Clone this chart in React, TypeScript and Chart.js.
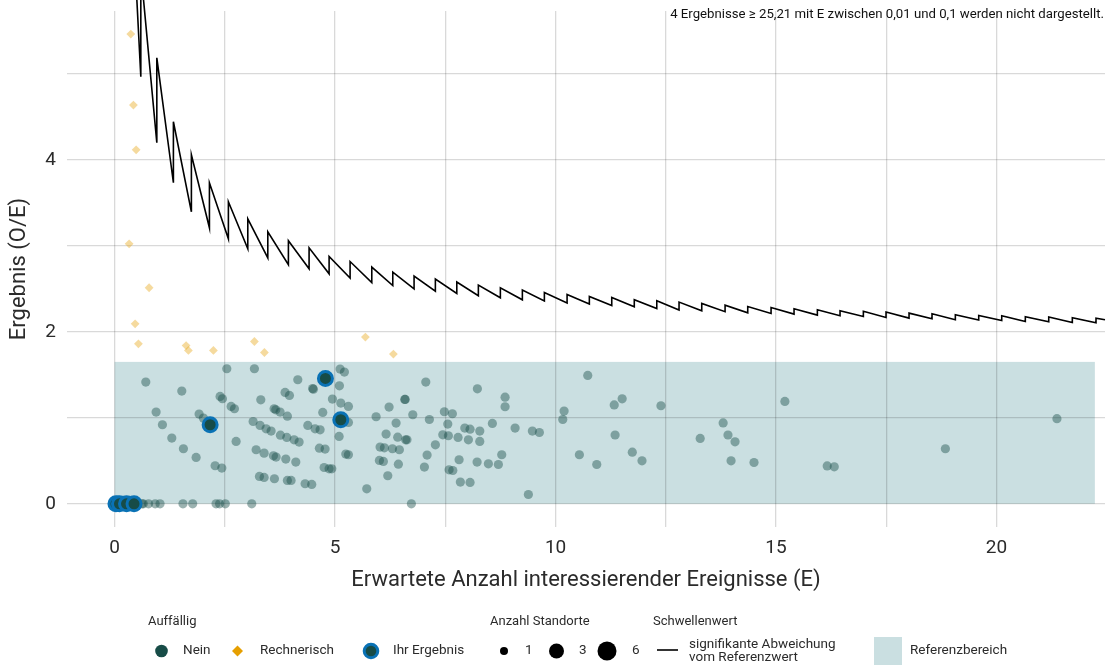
import React, { useEffect, useRef } from "react";
import { Chart, registerables } from "chart.js";

Chart.register(...registerables);

// ---------- tick labels ----------
const xTickValues = [0, 2.5, 5, 7.5, 10, 12.5, 15, 17.5, 20];
const xTickLabeled = [0, 5, 10, 15, 20];
const yTickValues = [0, 1, 2, 3, 4, 5];
const yTickLabeled = [0, 2, 4];

// ---------- reference range ----------
const refRangeE = [0, 22.23];
const refRangeOE = [0, 1.65];

// ---------- "Nein" (not conspicuous) ----------
const neinE = [
  2.544, 3.17, 0.707, 1.523, 4.154, 3.866, 3.964, 2.392, 2.445, 3.315, 4.508, 4.49, 5.113, 5.211, 5.098, 4.939,
  5.129, 5.302, 0.941, 1.916, 2.014, 2.642, 2.717, 3.617, 3.655, 3.753, 3.918, 4.72, 5.93, 6.224, 6.383, 1.084,
  3.141, 3.299, 3.435, 3.549, 4.381, 4.546, 4.66, 5.302, 1.297, 2.755, 3.76, 3.905, 4.07, 4.184, 5.091, 6.156,
  6.42, 1.56, 1.848, 3.209, 3.39, 3.601, 3.662, 3.882, 4.109, 4.644, 4.773, 5.242, 5.302, 6.02, 6.118, 6.3,
  6.458, 2.279, 2.431, 4.751, 4.864, 4.925, 6.005, 6.095, 6.435, 3.284, 3.39, 3.624, 3.918, 4.002, 6.195, 4.32,
  4.47, 5.718, 6.6, 6.63,
  7.057, 6.58, 6.59, 6.762, 7.138, 7.478, 7.66, 7.555, 8.227, 8.855, 8.855, 7.941, 8.061, 8.281, 8.281, 8.567,
  9.082, 9.474, 9.633, 7.442, 7.569, 7.789, 8.023, 7.274, 7.086, 7.025, 7.585, 7.669, 7.812, 8.22, 8.476, 8.703,
  8.779, 7.841, 8.061, 9.383, 10.163, 10.193, 10.54, 10.73, 10.934,
  11.33, 11.51, 11.35, 11.74, 11.96, 12.39, 13.28, 13.8, 13.91, 14.07, 13.98, 14.5, 15.2, 16.16, 16.32, 18.84,
  21.37,
  0.15, 0.35, 0.62, 0.65, 0.77, 0.92, 1.03, 1.55, 1.77, 2.3, 2.38, 2.51, 3.11, 6.73,
];
const neinOE = [
  1.57, 1.57, 1.415, 1.31, 1.442, 1.295, 1.26, 1.248, 1.221, 1.209, 1.333, 1.34, 1.566, 1.531, 1.372, 1.217,
  1.171, 1.132, 1.066, 1.043, 0.996, 1.132, 1.105, 1.105, 1.093, 1.066, 1.019, 1.062, 1.012, 1.124, 0.938, 0.919,
  0.957, 0.911, 0.872, 0.845, 0.911, 0.872, 0.86, 0.946, 0.764, 0.725, 0.798, 0.771, 0.744, 0.717, 0.783, 0.81,
  0.775, 0.64, 0.539, 0.628, 0.589, 0.558, 0.543, 0.52, 0.485, 0.647, 0.636, 0.578, 0.57, 0.659, 0.651, 0.64,
  0.628, 0.442, 0.415, 0.422, 0.407, 0.407, 0.504, 0.492, 0.461, 0.318, 0.306, 0.291, 0.271, 0.271, 0.326, 0.233,
  0.225, 0.174, 0.744, 0.744,
  1.415, 1.213, 1.213, 1.035, 0.98, 1.07, 1.047, 0.927, 1.337, 1.24, 1.128, 0.88, 0.868, 0.845, 0.725, 0.934,
  0.88, 0.845, 0.829, 0.802, 0.791, 0.771, 0.744, 0.686, 0.566, 0.427, 0.395, 0.387, 0.512, 0.485, 0.465, 0.457,
  0.57, 0.252, 0.248, 0.108, 0.98, 1.078, 0.57, 1.492, 0.457,
  1.15, 1.22, 0.8, 0.6, 0.5, 1.14, 0.76, 0.94, 0.8, 0.72, 0.5, 0.48, 1.19, 0.44, 0.43, 0.64,
  0.99,
  0, 0, 0, 0, 0, 0, 0, 0, 0, 0, 0, 0, 0, 0,
];

// ---------- "Rechnerisch" (computationally conspicuous) ----------
const rechE = [0.367, 0.426, 0.488, 0.329, 0.782, 0.465, 0.54, 1.621, 1.673, 2.24, 3.17, 3.397, 5.687, 6.322];
const rechOE = [5.462, 4.636, 4.116, 3.023, 2.512, 2.093, 1.86, 1.84, 1.783, 1.783, 1.887, 1.759, 1.938, 1.741];

// ---------- "Ihr Ergebnis" ----------
const ihrE = [0.03, 0.11, 0.27, 0.44, 2.166, 4.781, 5.129];
const ihrOE = [0, 0, 0, 0, 0.919, 1.457, 0.977];

// ---------- threshold (significant deviation) ----------
const thresholdStart = [0.45, 6.4];
const thresholdEnd = [22.46, 2.14];
const thresholdE = [
  0.594, 0.957, 1.333, 1.741, 2.15, 2.58, 3.02, 3.474, 3.941, 4.41, 4.864, 5.34, 5.832, 6.308, 6.791, 7.274,
  7.76, 8.249, 8.748, 9.247, 9.746, 10.261, 10.766, 11.274, 11.785, 12.295, 12.8, 13.315, 13.844, 14.358, 14.887,
  15.408, 15.937, 16.451, 16.98, 17.494, 18.016, 18.537, 19.066, 19.596, 20.118, 20.653, 21.184, 21.719, 22.256,
];
const thresholdTop = [
  6.2, 5.186, 4.442, 4.058, 3.733, 3.512, 3.314, 3.163, 3.058, 2.977, 2.876, 2.817, 2.752, 2.694, 2.648, 2.613,
  2.578, 2.543, 2.512, 2.485, 2.457, 2.434, 2.41, 2.399, 2.372, 2.36, 2.345, 2.329, 2.31, 2.294, 2.283,
  2.267, 2.256, 2.244, 2.238, 2.229, 2.217, 2.209, 2.198, 2.19, 2.186, 2.174, 2.171, 2.163, 2.159,
];
const thresholdBottom = [
  4.965, 4.198, 3.733, 3.395, 3.209, 3.081, 2.965, 2.86, 2.779, 2.733, 2.674, 2.624, 2.573, 2.538, 2.5, 2.473,
  2.445, 2.419, 2.395, 2.372, 2.357, 2.334, 2.322, 2.306, 2.291, 2.271, 2.252, 2.244, 2.233, 2.221, 2.213,
  2.206, 2.194, 2.186, 2.178, 2.166, 2.159, 2.151, 2.14, 2.136, 2.131, 2.12, 2.116, 2.108, 2.105,
];

// ---------- styles ----------
const FONT = "Roboto, 'Noto Sans', sans-serif";
const TEXT = "#2b2b2b";
const BAND = "#cadfe1";
const GREEN = "#174c47";
const GREEN_A = "rgba(23,76,71,0.43)";
const ORANGE = "#e69f00";
const ORANGE_A = "rgba(230,159,0,0.38)";
const BLUE = "#0a72b5";

const toPts = (xs: number[], ys: number[]) => xs.map((x, i) => ({ x, y: ys[i] }));

function buildThreshold() {
  const pts = [{ x: thresholdStart[0], y: thresholdStart[1] }];
  thresholdE.forEach((e, i) => {
    pts.push({ x: e, y: thresholdBottom[i] });
    pts.push({ x: e, y: thresholdTop[i] });
  });
  pts.push({ x: thresholdEnd[0], y: thresholdEnd[1] });
  return pts;
}

const bandPlugin = {
  id: "refBand",
  beforeDraw(chart: any) {
    const { ctx } = chart;
    const x = chart.scales.x;
    const y = chart.scales.y;
    const x0 = x.getPixelForValue(refRangeE[0]);
    const x1 = x.getPixelForValue(refRangeE[1]);
    const y0 = y.getPixelForValue(refRangeOE[0]);
    const y1 = y.getPixelForValue(refRangeOE[1]);
    ctx.save();
    ctx.fillStyle = BAND;
    ctx.fillRect(x0, y1, x1 - x0, y0 - y1);
    ctx.restore();
  },
};

function circle(ctx: any, cx: number, cy: number, r: number, fill: string, stroke?: string, lw?: number) {
  ctx.beginPath();
  ctx.arc(cx, cy, r, 0, Math.PI * 2);
  ctx.fillStyle = fill;
  ctx.fill();
  if (stroke) {
    ctx.lineWidth = lw || 1;
    ctx.strokeStyle = stroke;
    ctx.stroke();
  }
}

const textPlugin = {
  id: "texts",
  afterDraw(chart: any) {
    const { ctx, chartArea } = chart;
    ctx.save();
    ctx.fillStyle = TEXT;
    // y title
    ctx.save();
    ctx.translate(19, (chartArea.top + chartArea.bottom) / 2);
    ctx.rotate(-Math.PI / 2);
    ctx.font = `22px ${FONT}`;
    ctx.textAlign = "center";
    ctx.textBaseline = "middle";
    ctx.fillText("Ergebnis (O/E)", 0, 0);
    ctx.restore();
    // x title
    ctx.font = `22px ${FONT}`;
    ctx.textAlign = "center";
    ctx.textBaseline = "middle";
    ctx.fillText("Erwartete Anzahl interessierender Ereignisse (E)", (chartArea.left + chartArea.right) / 2, 580);
    // annotation
    ctx.font = `13.2px ${FONT}`;
    ctx.textAlign = "right";
    ctx.fillStyle = "#111";
    ctx.fillText("4 Ergebnisse \u2265 25,21 mit E zwischen 0,01 und 0,1 werden nicht dargestellt.", 1104, 15);

    // legend
    ctx.fillStyle = TEXT;
    ctx.textAlign = "left";
    ctx.font = `13px ${FONT}`;
    ctx.fillText("Auffällig", 148, 622);
    ctx.fillText("Anzahl Standorte", 490, 622);
    ctx.fillText("Schwellenwert", 653, 622);

    const rowY = 651;
    ctx.font = `13.5px ${FONT}`;
    circle(ctx, 161.5, rowY, 6.3, GREEN);
    ctx.fillStyle = TEXT;
    ctx.fillText("Nein", 183, rowY);

    ctx.beginPath();
    ctx.moveTo(237.5, rowY - 5.5);
    ctx.lineTo(243, rowY);
    ctx.lineTo(237.5, rowY + 5.5);
    ctx.lineTo(232, rowY);
    ctx.closePath();
    ctx.fillStyle = ORANGE;
    ctx.fill();
    ctx.fillStyle = TEXT;
    ctx.fillText("Rechnerisch", 260, rowY);

    circle(ctx, 371, rowY, 6.8, GREEN, BLUE, 3);
    ctx.fillStyle = TEXT;
    ctx.fillText("Ihr Ergebnis", 393, rowY);

    circle(ctx, 504, rowY, 4, "#000");
    ctx.fillStyle = TEXT;
    ctx.fillText("1", 525, rowY);
    circle(ctx, 556.5, rowY, 7.5, "#000");
    ctx.fillStyle = TEXT;
    ctx.fillText("3", 579, rowY);
    circle(ctx, 607, rowY, 9.5, "#000");
    ctx.fillStyle = TEXT;
    ctx.fillText("6", 632, rowY);

    ctx.beginPath();
    ctx.moveTo(657, 650);
    ctx.lineTo(678, 650);
    ctx.lineWidth = 1.6;
    ctx.strokeStyle = "#000";
    ctx.stroke();
    ctx.fillStyle = TEXT;
    ctx.fillText("signifikante Abweichung", 689, 645);
    ctx.fillText("vom Referenzwert", 689, 658);

    ctx.fillStyle = BAND;
    ctx.fillRect(874, 637, 28, 28);
    ctx.fillStyle = TEXT;
    ctx.fillText("Referenzbereich", 910, rowY);
    ctx.restore();
  },
};

export default function App() {
  const ref = useRef<HTMLCanvasElement | null>(null);

  useEffect(() => {
    document.body.style.margin = "0";
    const canvas = ref.current;
    if (!canvas) return;
    const chart = new Chart(canvas, {
      type: "scatter",
      data: {
        datasets: [
          {
            label: "Schwellenwert",
            data: buildThreshold(),
            showLine: true,
            borderColor: "#000",
            borderWidth: 1.6,
            pointRadius: 0,
            tension: 0,
            order: 0,
            clip: { left: 0, top: 14, right: 2, bottom: 0 } as any,
          },
          {
            label: "Ihr Ergebnis",
            data: toPts(ihrE, ihrOE),
            pointRadius: 7,
            borderWidth: 3,
            borderColor: BLUE,
            backgroundColor: GREEN,
            order: 1,
            clip: 10 as any,
          },
          {
            label: "Nein",
            data: toPts(neinE, neinOE),
            pointRadius: 4.6,
            borderWidth: 0,
            backgroundColor: GREEN_A,
            order: 2,
            clip: 10 as any,
          },
          {
            label: "Rechnerisch",
            data: toPts(rechE, rechOE),
            pointStyle: "rectRot",
            pointRadius: 4.4,
            borderWidth: 0,
            backgroundColor: ORANGE_A,
            order: 3,
            clip: 10 as any,
          },
        ],
      },
      options: {
        animation: false,
        responsive: false,
        devicePixelRatio: 1,
        events: [],
        layout: { autoPadding: false, padding: { top: 11, right: 4, left: 0, bottom: 0 } },
        plugins: {
          legend: { display: false },
          tooltip: { enabled: false },
        },
        scales: {
          x: {
            type: "linear",
            min: -1.08,
            max: 22.46,
            afterFit: (s: any) => {
              s.height = 141;
              s.paddingLeft = 0;
              s.paddingRight = 0;
              s.paddingTop = 0;
              s.paddingBottom = 0;
            },
            afterBuildTicks: (s: any) => {
              s.ticks = xTickValues.map((v) => ({ value: v }));
            },
            grid: { color: "rgba(0,0,0,0.15)", lineWidth: 1.3, drawTicks: false },
            border: { display: false },
            ticks: {
              autoSkip: false,
              maxRotation: 0,
              padding: 10,
              color: TEXT,
              font: { family: FONT, size: 19 },
              callback: (v: any) => (xTickLabeled.includes(Number(v)) ? String(v) : ""),
            },
          },
          y: {
            type: "linear",
            min: -0.27,
            max: 5.73,
            afterFit: (s: any) => {
              s.width = 67;
              s.paddingTop = 0;
              s.paddingBottom = 0;
              s.paddingLeft = 0;
              s.paddingRight = 0;
            },
            afterBuildTicks: (s: any) => {
              s.ticks = yTickValues.map((v) => ({ value: v }));
            },
            grid: { color: "rgba(0,0,0,0.15)", lineWidth: 1.3, drawTicks: false },
            border: { display: false },
            ticks: {
              autoSkip: false,
              padding: 11,
              color: TEXT,
              font: { family: FONT, size: 19 },
              callback: (v: any) => (yTickLabeled.includes(Number(v)) ? String(v) : ""),
            },
          },
        },
      },
      plugins: [bandPlugin, textPlugin],
    } as any);
    return () => chart.destroy();
  }, []);

  return (
    <div style={{ position: "fixed", left: 0, top: 0, width: 1109, height: 668, background: "#fff" }}>
      <canvas ref={ref} width={1109} height={668} style={{ width: 1109, height: 668, display: "block" }} />
    </div>
  );
}
